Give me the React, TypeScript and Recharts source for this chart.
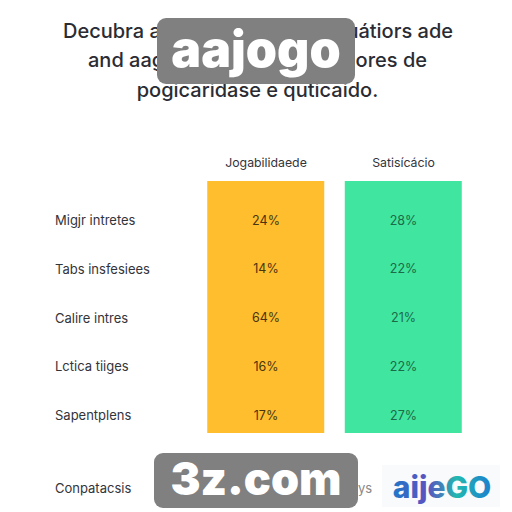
import React from "react";
import { ComposedChart, Bar, Cell, Scatter, XAxis, YAxis } from "recharts";

const columnNames = ["Jogabilidaede", "Satisícácio"];
const rowNames = ["Migjr intretes", "Tabs insfesiees", "Calire intres", "Lctica tiiges", "Sapentplens", "Conpatacsis"];
const rowTicks = [0, 1, 2, 3, 4, 5.5];
const jogabilidade = [24, 14, 64, 16, 17];
const satisfacao = [28, 22, 21, 22, 27];
const columnSpan: [number, number] = [-0.8, 4.37];
const columnColors = ["#FFBE2E", "#40E6A0"];

const columns = columnNames.map((name, i) => ({ x: i, name, span: columnSpan }));
const jogPoints = jogabilidade.map((v, i) => ({ x: 0, y: i, v }));
const satPoints = satisfacao.map((v, i) => ({ x: 1, y: i, v }));

const font = "Inter, 'Noto Sans', sans-serif";

const RowTick = (p: any) => (
  <text x={55} y={p.y} dy={5} textAnchor="start" fontSize={13} fontFamily={font} fill="#33343a">
    {rowNames[rowTicks.indexOf(p.payload.value)]}
  </text>
);

const pctLabel = (fill: string) => (p: any) => (
  <text x={p.cx} y={p.cy} dy={4.5} textAnchor="middle" fontSize={12.5} fontFamily={font} fill={fill}>
    {p.payload.v}%
  </text>
);

const titleLine = (top: number, style: React.CSSProperties, text: string) => (
  <div style={{ position: "absolute", top, whiteSpace: "nowrap", fontFamily: font, fontSize: 20, fontWeight: 500, lineHeight: "26px", color: "#2b2c33", ...style }}>{text}</div>
);

const badge = (left: number, top: number, w: number, h: number, size: number, text: string) => (
  <div style={{ position: "absolute", left, top, width: w, height: h, background: "#808080", borderRadius: 9, color: "#fff", fontFamily: font, fontWeight: 900, fontSize: size, lineHeight: `${h - 4}px`, textAlign: "center" }}>{text}</div>
);

export default function App() {
  return (
    <div style={{ position: "absolute", left: 0, top: 0, width: 512, height: 512, background: "#fff", overflow: "hidden" }}>
      <ComposedChart
        width={512}
        height={512}
        data={columns}
        margin={{ top: 151, right: 32, bottom: 15, left: 0 }}
        barSize={117}
      >
        <XAxis
          dataKey="x"
          type="number"
          orientation="top"
          domain={[-0.5527, 1.556]}
          ticks={[0, 1]}
          height={30}
          axisLine={false}
          tickLine={false}
          tickFormatter={(v: number) => columnNames[v]}
          tick={{ fontSize: 12.3, fontFamily: font, fill: "#33343a" }}
          tickMargin={8}
        />
        <YAxis
          dataKey="y"
          type="number"
          reversed
          domain={[-0.8, 5.682]}
          ticks={rowTicks}
          width={190}
          axisLine={false}
          tickLine={false}
          tick={RowTick}
        />
        <Bar dataKey="span" isAnimationActive={false}>
          {columns.map((c, i) => (
            <Cell key={c.name} fill={columnColors[i]} />
          ))}
        </Bar>
        <Scatter data={jogPoints} isAnimationActive={false} shape={pctLabel("#4a3410")} />
        <Scatter data={satPoints} isAnimationActive={false} shape={pctLabel("#1c6a48")} />
      </ComposedChart>

      {titleLine(18, { left: 63 }, "Decubra a")}
      {titleLine(18, { right: 59 }, "uátiors ade")}
      {titleLine(47, { left: 88 }, "and aag")}
      {titleLine(47, { right: 85 }, "ores de")}
      {titleLine(77, { left: 0, width: 515, textAlign: "center" }, "pogicaridase e quticaido.")}

      {badge(157, 18, 198, 66, 50, "aajogo")}
      {badge(154, 453, 204, 55, 45, "3z.com")}

      <div style={{ position: "absolute", left: 358, top: 480, fontFamily: font, fontSize: 13, color: "#888" }}>ys</div>
      <svg style={{ position: "absolute", left: 382, top: 465 }} width={118} height={42}>
        <defs>
          <linearGradient id="logo" x1="0" x2="1" y1="0" y2="0">
            <stop offset="0" stopColor="#1f78c8" />
            <stop offset="0.35" stopColor="#5b52c0" />
            <stop offset="0.65" stopColor="#22b8b0" />
            <stop offset="1" stopColor="#1c7fd0" />
          </linearGradient>
        </defs>
        <rect width={118} height={42} fill="#f8fafb" />
        <text x={60} y={33} textAnchor="middle" fontFamily={font} fontWeight={800} fontSize={30} fill="url(#logo)">aijeGO</text>
      </svg>
    </div>
  );
}
